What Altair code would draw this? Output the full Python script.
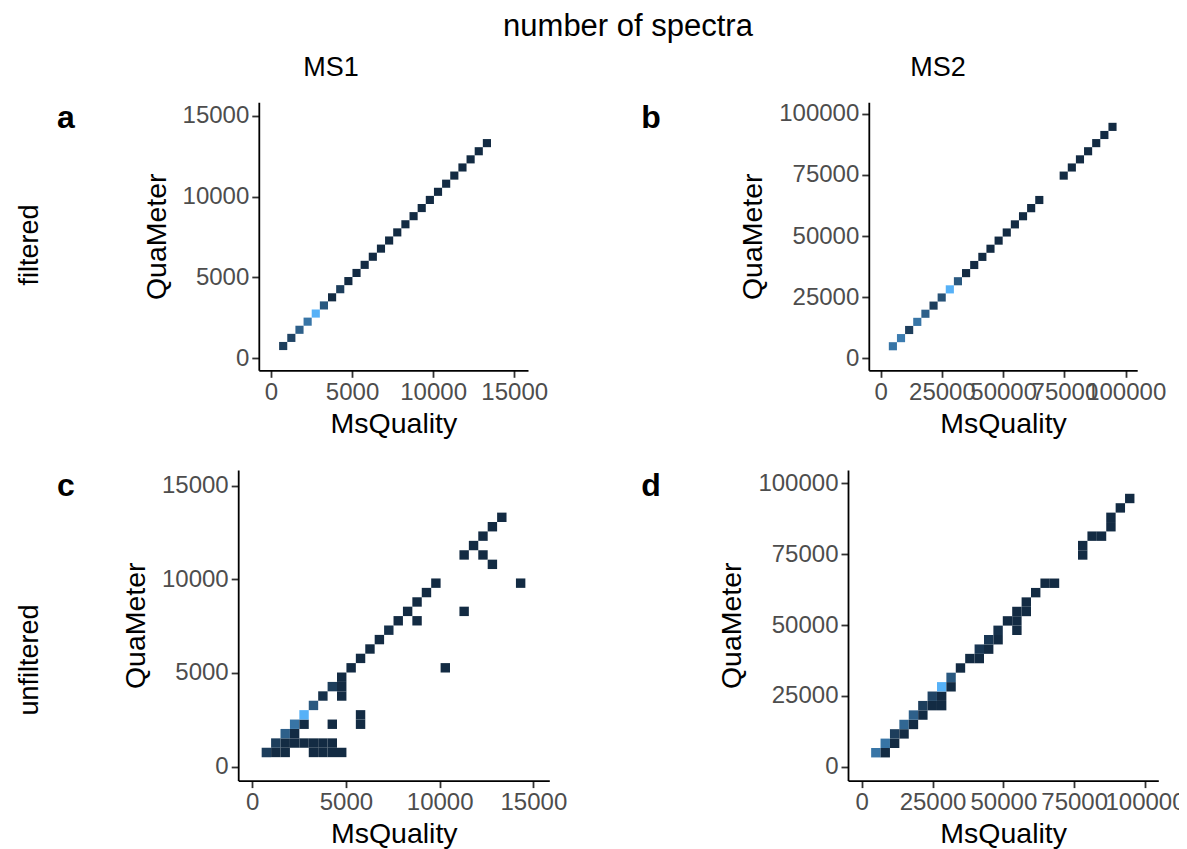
import altair as alt
import pandas as pd

# ---- bin widths (ggplot bin2d, 30 bins over each MS level's limits) ----
MS1_BIN = 502.5
MS2_BIN = 3320.0

# ---- panel a: MS1 filtered (bin index x, bin index y, count) ----
a_ix = [1, 2, 3, 4, 5, 6, 7, 8, 9, 10, 11, 12, 13, 14, 15, 16, 17, 18, 19, 20, 21, 22, 23, 24, 25, 26]
a_iy = [1, 2, 3, 4, 5, 6, 7, 8, 9, 10, 11, 12, 13, 14, 15, 16, 17, 18, 19, 20, 21, 22, 23, 24, 25, 26]
a_n = [4, 5, 9, 12, 20, 8, 1, 4, 1, 1, 1, 1, 1, 1, 1, 1, 1, 1, 1, 1, 1, 1, 1, 1, 1, 1]

# ---- panel b: MS2 filtered ----
b_ix = [1, 2, 3, 4, 5, 6, 7, 8, 9, 10, 11, 12, 13, 14, 15, 16, 17, 18, 19, 22, 23, 24, 25, 26, 27, 28]
b_iy = [1, 2, 3, 4, 5, 6, 7, 8, 9, 10, 11, 12, 13, 14, 15, 16, 17, 18, 19, 22, 23, 24, 25, 26, 27, 28]
b_n = [12, 13, 4, 12, 9, 4, 7, 20, 8, 1, 1, 1, 1, 1, 1, 1, 1, 1, 1, 1, 1, 1, 1, 1, 1, 1]

# ---- panel c: MS1 unfiltered ----
c_ix = [1, 2, 3, 6, 7, 8, 9,
        2, 3, 4, 5, 6, 7, 8,
        3, 4,
        4, 5, 8, 11,
        5, 11,
        6,
        7, 9,
        8, 9,
        9,
        10, 20,
        11, 12, 13, 14,
        15, 17,
        16, 22,
        17, 18,
        19, 28,
        25,
        22, 24,
        23, 24, 25, 26]
c_iy = [1, 1, 1, 1, 1, 1, 1,
        2, 2, 2, 2, 2, 2, 2,
        3, 3,
        4, 4, 4, 4,
        5, 5,
        6,
        7, 7,
        8, 8,
        9,
        10, 10,
        11, 12, 13, 14,
        15, 15,
        16, 16,
        17, 18,
        19, 19,
        21,
        22, 22,
        23, 24, 25, 26]
c_n = [4, 1, 1, 1, 1, 1, 1,
       4, 1, 1, 1, 1, 1, 1,
       9, 1,
       12, 1, 1, 1,
       20, 1,
       8,
       2, 1,
       4, 1,
       1,
       1, 1,
       1, 1, 1, 2,
       1, 1,
       1, 1,
       1, 1,
       1, 1,
       1,
       1, 1,
       1, 1, 1, 1]

# ---- panel d: MS2 unfiltered ----
d_ix = [1, 2, 2, 3, 3, 4, 4, 5, 5, 6, 6, 7, 8, 7, 8, 8, 9, 9,
        10, 11, 12, 12, 13, 13, 14, 14, 16, 15, 16, 16, 17, 17, 18, 19, 20,
        23, 23, 24, 25, 26, 26, 27, 28]
d_iy = [1, 1, 2, 2, 3, 3, 4, 4, 5, 5, 6, 6, 6, 7, 7, 8, 8, 9,
        10, 11, 11, 12, 12, 13, 13, 14, 14, 15, 15, 16, 16, 17, 18, 19, 19,
        22, 23, 24, 24, 25, 26, 27, 28]
d_n = [12, 1, 12, 1, 4, 1, 10, 1, 9, 1, 4, 1, 1, 5, 1, 20, 1, 8,
       1, 1, 1, 3, 1, 3, 1, 2, 1, 1, 1, 1, 1, 1, 1, 1, 1,
       1, 1, 1, 1, 1, 1, 1, 1]

MS1_TICKS = [0, 5000, 10000, 15000]
MS2_TICKS = [0, 25000, 50000, 75000, 100000]
MS1_DOMAIN = [-750, 15850]
MS2_DOMAIN = [-4850, 104700]

W, H = 1171, 841
FONT = "Liberation Sans"


def frame(ix, iy, n, bw):
    return pd.DataFrame({
        "x": [i * bw for i in ix], "x2": [(i + 1) * bw for i in ix],
        "y": [j * bw for j in iy], "y2": [(j + 1) * bw for j in iy],
        "n": n,
    })


def panel(df, dom, ticks, xr, yr):
    return alt.Chart(df).mark_rect().encode(
        x=alt.X("x:Q", scale=alt.Scale(domain=dom, range=xr, nice=False, zero=False),
                axis=alt.Axis(orient="bottom", offset=-(H - yr[0]), values=ticks,
                              format="d", title="MsQuality")),
        x2="x2:Q",
        y=alt.Y("y:Q", scale=alt.Scale(domain=dom, range=yr, nice=False, zero=False),
                axis=alt.Axis(orient="left", offset=-xr[0], values=ticks,
                              format="d", title="QuaMeter")),
        y2="y2:Q",
        color=alt.Color("n:Q", scale=alt.Scale(domain=[1, max(df["n"])],
                                               range=["#132B43", "#56B1F7"],
                                               interpolate="lab"),
                        legend=None),
    )


top_y = [362.3, 94.2]
bot_y = [772.6, 461.9]
pa = panel(frame(a_ix, a_iy, a_n, MS1_BIN), MS1_DOMAIN, MS1_TICKS, [250.8, 520.0], top_y)
pb = panel(frame(b_ix, b_iy, b_n, MS2_BIN), MS2_DOMAIN, MS2_TICKS, [860.8, 1129.2], top_y)
pc = panel(frame(c_ix, c_iy, c_n, MS1_BIN), MS1_DOMAIN, MS1_TICKS, [230.2, 541.3], bot_y)
pd_ = panel(frame(d_ix, d_iy, d_n, MS2_BIN), MS2_DOMAIN, MS2_TICKS, [840.0, 1150.3], bot_y)


def label(txt, x, y, size=27, bold=False, angle=0):
    return alt.Chart(pd.DataFrame({"t": [txt]})).mark_text(
        fontSize=size, fontWeight="bold" if bold else "normal", font=FONT,
        color="black", align="center", baseline="middle", angle=angle,
    ).encode(text="t:N", x=alt.value(x), y=alt.value(y))


texts = [
    label("number of spectra", 620, 19, 31),
    label("MS1", 323, 60),
    label("MS2", 930, 60),
    label("a", 58, 110, 32, True),
    label("b", 643, 110, 32, True),
    label("c", 58, 478, 32, True),
    label("d", 643, 478, 32, True),
    label("filtered", 22, 237, angle=270),
    label("unfiltered", 22, 652, angle=270),
]

chart = alt.layer(pa, pb, pc, pd_, *texts).resolve_scale(
    x="independent", y="independent", color="independent"
).properties(
    width=W, height=H, padding=0, autosize=alt.AutoSizeParams(type="none")
).configure(font=FONT).configure_view(
    stroke=None
).configure_axis(
    grid=False, domainColor="black", domainWidth=1.8, tickColor="#333333",
    tickWidth=1.8, tickSize=7, labelColor="#4D4D4D", labelFontSize=24,
    labelPadding=3, labelOverlap=False, labelBound=False, labelFlush=False,
    titleFontSize=28.5, titleColor="black", titleFontWeight="normal",
    titlePadding=5, labelFont=FONT, titleFont=FONT,
).configure_axisY(titlePadding=11)

chart.save("out.html", embed_options={"renderer": "svg", "actions": False})
